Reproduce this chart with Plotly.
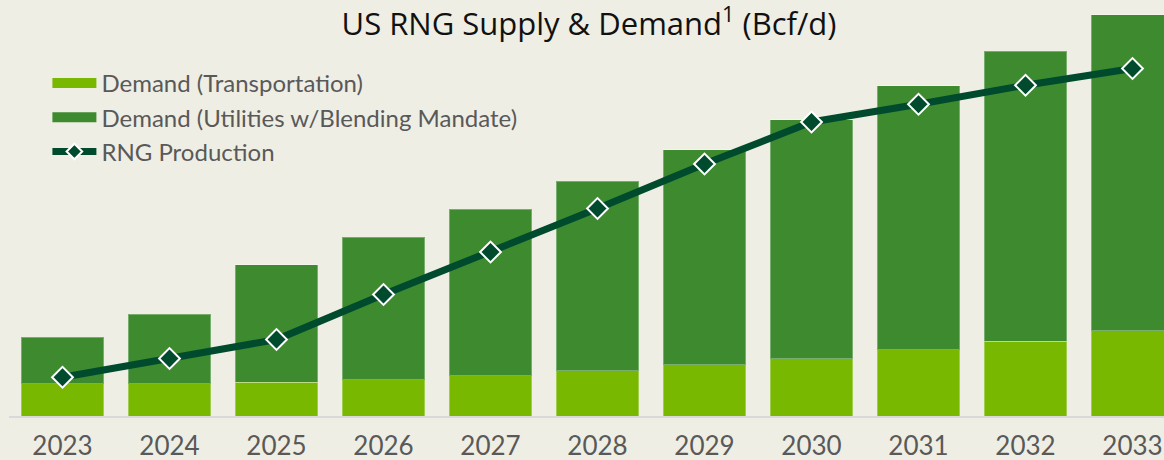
import plotly.graph_objects as go

years = ["2023", "2024", "2025", "2026", "2027", "2028", "2029", "2030", "2031", "2032", "2033"]
demand_transport = [0.325, 0.325, 0.34, 0.365, 0.405, 0.455, 0.515, 0.575, 0.665, 0.75, 0.855]
demand_utilities = [0.465, 0.695, 1.175, 1.425, 1.665, 1.895, 2.15, 2.39, 2.64, 2.898, 3.16]
rng_production = [0.388, 0.575, 0.765, 1.215, 1.64, 2.075, 2.52, 2.94, 3.118, 3.308, 3.475]

C_LIGHT = "#78B800"
C_MID = "#3D8A2F"
C_LINE = "#004B2D"
BG = "#EFEEE4"
FONT = "Lato"

fig = go.Figure()
fig.add_trace(go.Bar(x=years, y=demand_transport, name="Demand (Transportation)",
                     marker=dict(color=C_LIGHT, line=dict(color="rgba(255,255,255,0.3)", width=1)),
                     showlegend=False))
fig.add_trace(go.Bar(x=years, y=demand_utilities, name="Demand (Utilities w/Blending Mandate)",
                     marker=dict(color=C_MID, line=dict(color="rgba(255,255,255,0.3)", width=1)),
                     showlegend=False))
fig.add_trace(go.Scatter(x=years, y=rng_production, name="RNG Production", mode="lines+markers",
                         line=dict(color=C_LINE, width=7),
                         marker=dict(symbol="diamond", size=16, color=C_LINE,
                                     line=dict(color="white", width=2)),
                         showlegend=False))
# legend entries
fig.add_trace(go.Scatter(x=[None], y=[None], mode="lines", name="Demand (Transportation)",
                         line=dict(color=C_LIGHT, width=12)))
fig.add_trace(go.Scatter(x=[None], y=[None], mode="lines", name="Demand (Utilities w/Blending Mandate)",
                         line=dict(color=C_MID, width=12)))
fig.add_trace(go.Scatter(x=[None], y=[None], mode="lines+markers", name="RNG Production",
                         line=dict(color=C_LINE, width=7),
                         marker=dict(symbol="diamond", size=12, color=C_LINE,
                                     line=dict(color="white", width=2))))

fig.update_layout(
    width=1164, height=460,
    paper_bgcolor=BG, plot_bgcolor=BG,
    barmode="stack", bargap=0.225,
    margin=dict(l=9, r=0, t=0, b=44),
    font=dict(family=FONT, color="#595959"),
    title=dict(text="US RNG Supply & Demand<sup>1</sup> (Bcf/d)", x=589/1164, xanchor="center",
               y=1 - 24/460, yanchor="middle",
               font=dict(size=31, color="#111111", family="Open Sans")),
    legend=dict(x=(47.4 - 9)/1155, y=1 - 61/416, xanchor="left", yanchor="top",
                bgcolor="rgba(0,0,0,0)",
                font=dict(size=24, color="#595959", family=FONT), itemwidth=44,
                traceorder="normal"),
    xaxis=dict(type="category", range=[-0.5, -0.5 + 1155/107], showgrid=False, showline=True,
               linecolor="#D9D9D9", linewidth=2, tickfont=dict(size=26, color="#595959"),
               ticks="", ticklabelstandoff=6, automargin=False, fixedrange=True),
    yaxis=dict(range=[0, 4.16], visible=False, automargin=False, fixedrange=True),
)
fig.write_html("out.html", config={"displayModeBar": False},
               post_script="document.body.style.margin='0';document.body.style.background='%s';" % BG)
